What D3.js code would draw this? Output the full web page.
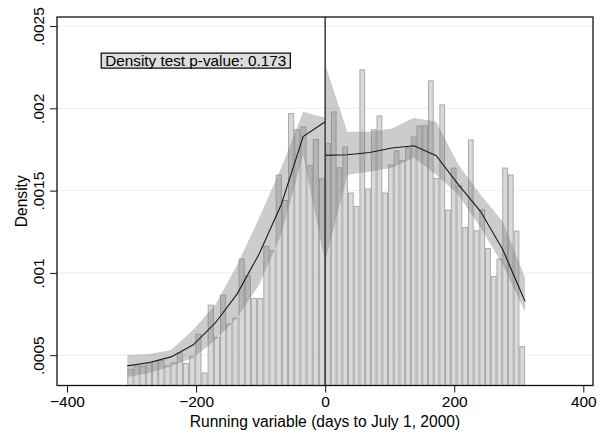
<!DOCTYPE html>
<html>
<head>
<meta charset="utf-8">
<script src="https://cdn.jsdelivr.net/npm/d3@7"></script>
<style>
  html, body { margin: 0; padding: 0; background: #fff; }
  svg { display: block; font-family: "Liberation Sans", Arial, sans-serif; }
</style>
</head>
<body>
<svg id="chart" width="604" height="447"></svg>
<script>
// ---------- data ----------
// histogram, left of cutoff (32 bins starting at -306.6, width 9.58 days)
const leftBinStart = -306.6;
const leftBinWidth = 9.58;
const leftDensity = [
  0.000415, 0.000435, 0.000435, 0.000453, 0.000461, 0.000468, 0.000435, 0.000453,
  0.000514, 0.000450, 0.000490, 0.000628, 0.000392, 0.000804, 0.000609, 0.000865,
  0.000690, 0.000725, 0.001084, 0.000982, 0.000844, 0.000844, 0.001161, 0.001136,
  0.001595, 0.001440, 0.001968, 0.001870, 0.001887, 0.001651, 0.001810, 0.001572
];
// histogram, right of cutoff (35 bins starting at 0, width 8.85 days)
const rightBinStart = 0;
const rightBinWidth = 8.85;
const rightDensity = [
  0.001785, 0.001978, 0.001639, 0.001765, 0.001485, 0.001404, 0.002234, 0.001510,
  0.001870, 0.001954, 0.001485, 0.001656, 0.001741, 0.001684, 0.001761, 0.001826,
  0.001893, 0.001893, 0.002167, 0.001574, 0.002021, 0.001382, 0.001637, 0.001530,
  0.001276, 0.001808, 0.001256, 0.001384, 0.001148, 0.000978, 0.001084, 0.001637,
  0.001595, 0.001254, 0.000552
];
// local polynomial density estimate and confidence band
const leftGrid  = [-306.6, -272.5, -238.5, -204.4, -170.3, -136.3, -102.2, -68.1, -34.1, 0];
const leftFit   = [0.000435, 0.000456, 0.000490, 0.000563, 0.000696, 0.000873, 0.001116, 0.001414, 0.001828, 0.001919];
const leftUpper = [0.000502, 0.000508, 0.000532, 0.000654, 0.000806, 0.001049, 0.001335, 0.001639, 0.001980, 0.001943];
const leftLower = [0.000368, 0.000392, 0.000435, 0.000484, 0.000593, 0.000727, 0.000928, 0.001232, 0.001718, 0.001067];
const rightGrid  = [0, 34.4, 68.8, 103.3, 137.7, 172.1, 206.5, 240.9, 275.3, 309.75];
const rightFit   = [0.001714, 0.001718, 0.001732, 0.001759, 0.001773, 0.001712, 0.001536, 0.001373, 0.001141, 0.000826];
const rightUpper = [0.002266, 0.001858, 0.001858, 0.001877, 0.001943, 0.001919, 0.001658, 0.001475, 0.001311, 0.000970];
const rightLower = [0.001067, 0.001597, 0.001615, 0.001639, 0.001700, 0.001597, 0.001475, 0.001274, 0.001049, 0.000763];

const xTicks = [-400, -200, 0, 200, 400];
const yTicks = [0.0005, 0.001, 0.0015, 0.002, 0.0025];
const yTickLabels = [".0005", ".001", ".0015", ".002", ".0025"];
const xTitle = "Running variable (days to July 1, 2000)";
const yTitle = "Density";
const noteText = "Density test p-value: 0.173";
const notePos = { x: -347, y: 0.00229 };
const cutoff = 0;

// ---------- layout ----------
const svg = d3.select("#chart");
const pL = 57, pR = 593, pT = 17, pB = 385.5;
const x = d3.scaleLinear().domain([-415.5, 415]).range([pL, pR]);
const y = d3.scaleLinear().domain([0.000316, 0.002555]).range([pB, pT]);

svg.append("defs").append("clipPath").attr("id", "clip")
  .append("rect").attr("x", pL).attr("y", pT)
  .attr("width", pR - pL).attr("height", pB - pT);

// gridlines
svg.append("g").selectAll("line").data(yTicks).join("line")
  .attr("x1", pL).attr("x2", pR)
  .attr("y1", d => y(d)).attr("y2", d => y(d))
  .attr("stroke", "#e8efef").attr("stroke-width", 1);

const plot = svg.append("g").attr("clip-path", "url(#clip)");

// bars
const bars = leftDensity.map((v, i) => ({ x0: leftBinStart + i * leftBinWidth, x1: leftBinStart + (i + 1) * leftBinWidth, v }))
  .concat(rightDensity.map((v, i) => ({ x0: rightBinStart + i * rightBinWidth, x1: rightBinStart + (i + 1) * rightBinWidth, v })));
plot.append("g").selectAll("rect").data(bars).join("rect")
  .attr("x", d => x(d.x0) + 0.5)
  .attr("width", d => x(d.x1) - x(d.x0) - 1)
  .attr("y", d => y(d.v))
  .attr("height", d => pB - y(d.v) + 2)
  .attr("fill", "#d9d9d9")
  .attr("stroke", "#a9a9a9")
  .attr("stroke-width", 1);

// confidence bands
const area = d3.area().x(d => x(d.g)).y0(d => y(d.lo)).y1(d => y(d.hi));
const leftBand = leftGrid.map((g, i) => ({ g, lo: leftLower[i], hi: leftUpper[i] }));
const rightBand = rightGrid.map((g, i) => ({ g, lo: rightLower[i], hi: rightUpper[i] }));
[leftBand, rightBand].forEach(b => {
  plot.append("path").datum(b).attr("d", area)
    .attr("fill", "#7a7a7a").attr("fill-opacity", 0.38);
});

// cutoff line
svg.append("line")
  .attr("x1", x(cutoff)).attr("x2", x(cutoff))
  .attr("y1", pT).attr("y2", pB)
  .attr("stroke", "#3a3a3a").attr("stroke-width", 1.5);

// fit lines
const line = d3.line().x(d => x(d.g)).y(d => y(d.f));
[leftGrid.map((g, i) => ({ g, f: leftFit[i] })), rightGrid.map((g, i) => ({ g, f: rightFit[i] }))]
  .forEach(l => {
    plot.append("path").datum(l).attr("d", line)
      .attr("fill", "none").attr("stroke", "#1a1a1a").attr("stroke-width", 1.1);
  });

// frame
svg.append("rect").attr("x", pL).attr("y", pT)
  .attr("width", pR - pL).attr("height", pB - pT)
  .attr("fill", "none").attr("stroke", "#111").attr("stroke-width", 1.3);

// x axis
const xAxis = svg.append("g").attr("transform", `translate(0,${pB})`)
  .call(d3.axisBottom(x).tickValues(xTicks).tickSize(7).tickPadding(3).tickFormat(d3.format("d")));
xAxis.select(".domain").remove();
xAxis.selectAll("line").attr("stroke", "#111");
xAxis.selectAll("text").attr("font-size", 15.5).attr("fill", "#000")
  .attr("font-family", "Liberation Sans, Arial, sans-serif");

// y axis
const yAxis = svg.append("g").attr("transform", `translate(${pL},0)`)
  .call(d3.axisLeft(y).tickValues(yTicks).tickSize(7).tickFormat((d, i) => yTickLabels[i]));
yAxis.select(".domain").remove();
yAxis.selectAll("line").attr("stroke", "#111");
yAxis.selectAll("text")
  .attr("font-size", 15.5).attr("fill", "#000")
  .attr("font-family", "Liberation Sans, Arial, sans-serif")
  .attr("x", null).attr("dy", null)
  .attr("text-anchor", "middle")
  .attr("transform", "translate(-13,0) rotate(-90)");

// axis titles
svg.append("text").attr("x", (pL + pR) / 2).attr("y", 427)
  .attr("text-anchor", "middle").attr("font-size", 15.6).attr("fill", "#000")
  .text(xTitle);
svg.append("text")
  .attr("transform", `translate(27,${(pT + pB) / 2}) rotate(-90)`)
  .attr("text-anchor", "middle").attr("font-size", 15.6).attr("fill", "#000")
  .text(yTitle);

// note box
const note = svg.append("g");
const nt = note.append("text")
  .attr("x", x(notePos.x) + 4).attr("y", y(notePos.y) + 5.8)
  .attr("font-size", 15.3).attr("fill", "#000").text(noteText);
const bb = nt.node().getBBox();
note.insert("rect", "text")
  .attr("x", x(notePos.x)).attr("y", y(notePos.y) - 7.5)
  .attr("width", bb.width + 8).attr("height", 15)
  .attr("fill", "#dedede").attr("stroke", "#000").attr("stroke-width", 1.2);
</script>
</body>
</html>
